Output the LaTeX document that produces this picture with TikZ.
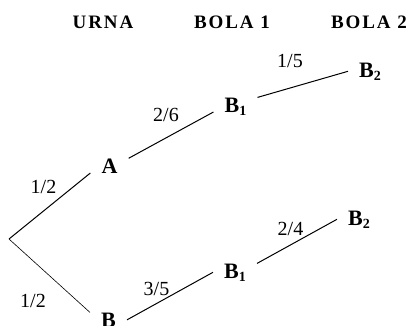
\documentclass[tikz,border=0pt]{standalone}
\usepackage{fontspec}
\setmainfont{Liberation Serif}
\newcommand{\ballsub}[2]{#1\raisebox{-3pt}{\fontsize{14}{14}\selectfont #2}}

\begin{document}
\begin{tikzpicture}[x=1pt, y=-1pt,
  header/.style={anchor=base, inner sep=0pt,
    font=\fontsize{19}{22}\selectfont\bfseries\addfontfeature{LetterSpace=10}},
  outcome/.style={anchor=base, inner xsep=11pt, inner ysep=0pt,
    font=\fontsize{22}{24}\selectfont\bfseries},
  prob/.style={anchor=base, inner sep=0pt, font=\fontsize{20}{24}\selectfont},
  branch/.style={line width=1pt},
  thinbranch/.style={line width=0.6pt}
]
  \useasboundingbox (0,0) rectangle (414,325);

  % column headers
  \node[header] (hurna) at (103,28) {URNA};
  \node[header] (hbola1) at (232,28) {BOLA 1};
  \node[header] (hbola2) at (369,28) {BOLA 2};

  % tree
  \coordinate (root) at (9,239);
  \node[outcome] (urnaA) at (109.5,173) {A};
  \node[outcome] (urnaB) at (108.5,327) {B};
  \node[outcome] (topB1) at (235.5,112) {\ballsub{B}{1}};
  \node[outcome] (topB2) at (370,77) {\ballsub{B}{2}};
  \node[outcome] (lowB1) at (235,278) {\ballsub{B}{1}};
  \node[outcome] (lowB2) at (359,225) {\ballsub{B}{2}};

  \draw[branch] (root) -- (urnaA.base west);
  \draw[thinbranch] (root) -- (urnaB.north west);
  \draw[branch] (urnaA.north east) -- (topB1.base west);
  \draw[branch] (topB1.north east) -- (topB2.west);
  \draw[branch] (urnaB.east) -- (lowB1.west);
  \draw[branch] (lowB1.north east) -- (lowB2.west);

  % probabilities
  \node[prob] (pA) at (43.5,193) {1/2};
  \node[prob] (pB) at (33,307) {1/2};
  \node[prob] (pAB1) at (166,121) {2/6};
  \node[prob] (pAB2) at (290,67) {1/5};
  \node[prob] (pBB1) at (156.5,295) {3/5};
  \node[prob] (pBB2) at (290.5,235) {2/4};
\end{tikzpicture}
\end{document}
